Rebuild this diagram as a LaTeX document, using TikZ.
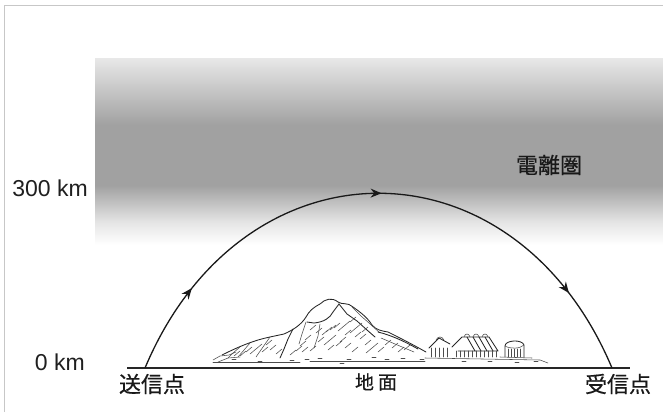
\documentclass[tikz,border=0pt]{standalone}
\usepackage{fontspec}
\setmainfont{Liberation Sans}
\newfontfamily\cjk[FakeBold=0.5]{Noto Sans CJK JP}
\usetikzlibrary{arrows.meta,decorations.markings}

% ionosphere band: white at the bottom, dark grey core, lighter grey top
\pgfdeclareverticalshading{iono}{100bp}{color(0bp)=(white); color(25bp)=(white);
  color(31bp)=(black!10); color(41bp)=(black!37); color(57bp)=(black!37);
  color(75bp)=(black!9); color(100bp)=(black!9)}

\tikzset{
  frameline/.style={draw=black!22, line width=0.8pt},
  groundline/.style={draw=black!85, line width=1.6pt},
  ray/.style={draw=black!90, line width=1.3pt,
    postaction={decorate},
    decoration={markings,
      mark=at position 0.15 with {\arrow{Stealth[length=11pt,width=9pt]}},
      mark=at position 0.505 with {\arrow{Stealth[length=11pt,width=9pt]}},
      mark=at position 0.86 with {\arrow{Stealth[length=11pt,width=9pt]}}}},
  axislabel/.style={font=\fontsize{23}{23}\selectfont, text=black!88, inner sep=0pt},
  cjklabel/.style={font=\cjk\fontsize{22}{22}\selectfont, text=black!90, inner sep=0pt},
  sketch/.style={draw=black!85, line width=0.85pt, line join=round, line cap=round},
  thin sketch/.style={draw=black!70, line width=0.55pt, line cap=round},
}

\begin{document}
\begin{tikzpicture}[x=1pt, y=-1pt]
  \useasboundingbox (0,0) rectangle (663,412);
  \fill[white] (0,0) rectangle (663,412);

  % outer frame
  \draw[frameline] (4,412) -- (4,5) -- (663,5);

  % ionosphere
  \shade[shading=iono] (95,58) rectangle (663,245);
  \node[cjklabel] (iono) at (549,165) {電離圏};

  % height labels
  \node[axislabel, anchor=east] (h300) at (88,188) {300 km};
  \node[axislabel, anchor=east] (h0) at (85,362) {0 km};

  % ground
  \coordinate (g1) at (127,368);
  \coordinate (g2) at (630,368);
  \draw[groundline] (g1) -- (g2);

  % landscape sketch: mountain
  \draw[sketch] (222,355) .. controls (240,346) and (255,340) .. (270,337) -- (284,334)
     .. controls (293,330) and (301,325) .. (306,317) .. controls (309,311) and (314,307) .. (320,304)
     .. controls (325,299) and (332,297) .. (338,302) .. controls (342,305) and (348,302) .. (353,307)
     .. controls (360,312) and (367,317) .. (372,325) .. controls (376,330) and (382,331) .. (388,332)
     .. controls (398,337) and (410,343) .. (426,352);
  \draw[sketch] (307,322) -- (314,323) .. controls (324,322) and (330,318) .. (333,312) -- (339,304);
  \draw[sketch] (339,304) -- (347,314) -- (357,321) -- (367,330) -- (375,337);
  \draw[thin sketch] (352,307) -- (361,316) -- (369,323) -- (380,333);
  \draw[sketch] (378,332) .. controls (390,335) and (402,340) .. (418,349);
  \draw[thin sketch] (381,338) -- (395,344) -- (414,352);
  \draw[sketch] (293,329) -- (288,339) -- (284,349) -- (280,358);
  \draw[thin sketch] (270,337) -- (263,347) -- (256,357);
  \draw[thin sketch] (250,343) -- (244,350) -- (238,357);
  \draw[thin sketch] (240,347) -- (233,353) -- (228,358);
  \draw[thin sketch] (213,360) -- (220,356) -- (229,355) -- (236,352);
  \draw[thin sketch] (218,362) -- (228,358) -- (240,357);
  \draw[thin sketch] (306,322) -- (302,334) -- (299,344);
  \draw[thin sketch] (320,324) -- (318,336) -- (314,348);
  \foreach \x/\y in {322/335,326/332,330/330,334/328,338/331,345/335,350/333,355/337,
                     360/339,318/342,324/345,340/342,300/346,305/340,296/351,310/351,
                     270/350,262/352,250/354,240/356,365/345,372/348,345/348,385/345,
                     392/348,330/340,316/333,356/328,362/332,344/326,350/322,336/346,
                     328/350,352/352,366/353,378/352,290/355,276/354,266/345,256/349,
                     246/352,234/356,310/330,302/352,398/352,404/350}
    \draw[thin sketch] (\x,\y) -- ++(6,-5);
  \foreach \x/\y in {232/359,258/361,290/360,318/358,347/359,372/357,401/358,420/359,
                     462/361,488/361,515/362,534/361,275/362,340/363,305/359,385/359}
    \draw[thin sketch] (\x,\y) -- ++(4,0);
  \draw[thin sketch] (213,362) -- (300,362);
  \draw[thin sketch] (310,361) -- (425,361);
  \draw[thin sketch] (425,358) -- (540,360) -- (548,363);

  % landscape sketch: buildings
  \draw[sketch] (429,348) -- (439,338) -- (450,344);
  \draw[thin sketch] (436,340) .. controls (438,336) and (442,336) .. (444,340);
  \foreach \x in {431,435,439,443,447}
    \draw[thin sketch] (\x,348) -- (\x,357);
  \draw[sketch] (452,347) -- (462,337) -- (489,337) -- (498,351) -- (458,351);
  \foreach \x in {467,473,479,485}
    \draw[sketch] (\x,337) -- (\x+8,351);
  \foreach \x in {467,476,485}
    \draw[thin sketch] (\x-3,337) .. controls (\x-2,333) and (\x+2,333) .. (\x+3,337);
  \foreach \x in {456,460,464,468,472,476,480,484,488,492,496}
    \draw[thin sketch] (\x,351) -- (\x,357);
  \draw[sketch] (505,357) -- (505,346) .. controls (505,340) and (522,339) .. (524,345) -- (524,357);
  \draw[thin sketch] (505,346) .. controls (510,349) and (520,349) .. (524,345);
  \foreach \x in {508,511,514,517,520}
    \draw[thin sketch] (\x,349) -- (\x,357);
  \draw[thin sketch] (500,357) -- (532,358);

  % propagation path
  \coordinate (tx) at (145,368);
  \coordinate (rx) at (612,368);
  \draw[ray] (tx) .. controls (243,135) and (514,135) .. (rx);

  % ground labels
  \node[cjklabel] (send) at (152,384) {送信点};
  \node[cjklabel] (recv) at (618,384) {受信点};
  \node[cjklabel, font=\cjk\fontsize{19}{19}\selectfont] (ground) at (376,382) {地\hspace{4pt}面};
\end{tikzpicture}
\end{document}
